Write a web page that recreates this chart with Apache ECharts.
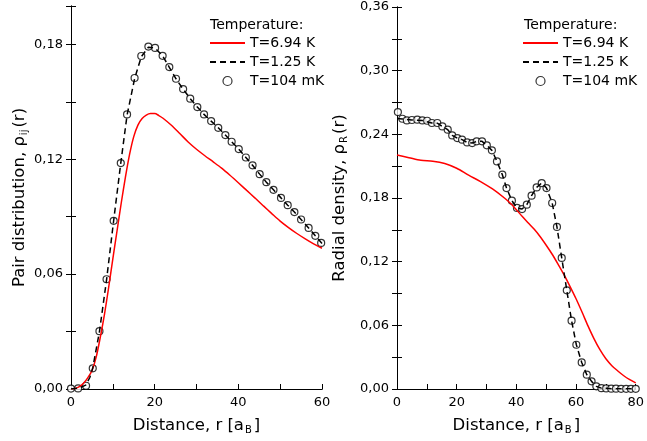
<!DOCTYPE html>
<html>
<head>
<meta charset="utf-8">
<script src="https://cdn.jsdelivr.net/npm/echarts@6/dist/echarts.min.js"></script>
<style>
  html, body { margin: 0; padding: 0; background: #fff; }
  #chart { width: 647px; height: 441px; }
</style>
</head>
<body>
<div id="chart"></div>
<script>
// series names
var seriesNames = ['T=6.94 K', 'T=1.25 K', 'T=104 mK'];

// left panel: pair distribution, [r, rho]
var pairHot = [[0,0],[1,0.0003],[2,0.0012],[3,0.003],[4,0.0058],[5,0.0095],[6,0.0165],[7,0.027],[8,0.039],[9,0.053],[10,0.068],[11,0.0825],[12,0.097],[13,0.1105],[14,0.1225],[15,0.1318],[16,0.1378],[17,0.1412],[18,0.143],[19,0.1438],[20,0.1438],[21,0.1428],[22,0.1414],[24,0.1377],[26,0.1334],[28,0.129],[30,0.1252],[32,0.1218],[34,0.1186],[36,0.1153],[38,0.1116],[40,0.1077],[42,0.1037],[44,0.0997],[46,0.0956],[48,0.0916],[50,0.0877],[52,0.0843],[54,0.0812],[56,0.0784],[58,0.0758],[60,0.0735]];
var pairMid = [[0,0],[2,0.0005],[3.5,0.002],[4.5,0.006],[5.2,0.011],[6.8,0.030],[8.5,0.057],[10.2,0.088],[11.9,0.118],[13.4,0.143],[15.2,0.162],[16.8,0.1735],[18.5,0.1785],[20.1,0.178],[21.9,0.174],[23.5,0.168],[25.1,0.162],[26.8,0.1566],[28.5,0.1516],[30.2,0.1472],[31.8,0.1434],[33.5,0.1399],[35.2,0.1364],[36.9,0.1326],[38.4,0.1291],[40.1,0.1253],[41.8,0.1209],[43.4,0.1168],[45.1,0.1122],[46.7,0.108],[48.4,0.104],[50.2,0.0998],[51.8,0.096],[53.4,0.0924],[55.0,0.0885],[56.8,0.0841],[58.4,0.08],[60,0.076]];
var pairCold = [[0,0.0002],[1.7,0.0003],[3.6,0.0017],[5.2,0.0108],[6.8,0.0302],[8.5,0.0573],[10.2,0.0878],[11.9,0.118],[13.4,0.1434],[15.2,0.1624],[16.8,0.1739],[18.5,0.1788],[20.1,0.1781],[21.9,0.174],[23.5,0.1681],[25.1,0.162],[26.8,0.1566],[28.5,0.1516],[30.2,0.1472],[31.8,0.1434],[33.5,0.1399],[35.2,0.1364],[36.9,0.1326],[38.4,0.1291],[40.1,0.1253],[41.8,0.1209],[43.4,0.1168],[45.1,0.1122],[46.7,0.108],[48.4,0.104],[50.2,0.0998],[51.8,0.096],[53.4,0.0924],[55.0,0.0885],[56.8,0.0841],[58.4,0.08],[59.8,0.0763]];

// right panel: radial density, [r, rho]
var radHot = [[0,0.2205],[4,0.218],[8,0.2155],[12,0.2147],[16,0.2125],[20,0.208],[24,0.2015],[28,0.1955],[32,0.1885],[36,0.18],[38,0.175],[40,0.169],[42,0.1625],[44,0.1565],[46,0.1505],[48,0.1435],[50,0.1355],[52,0.127],[54,0.1175],[56,0.1075],[58,0.0965],[60,0.085],[62,0.0725],[64,0.0595],[66,0.0475],[68,0.037],[70,0.0285],[72,0.022],[74,0.017],[76,0.0125],[78,0.0088],[80,0.0057]];
var radMid = [[0,0.255],[1.8,0.2545],[5,0.2535],[8.5,0.253],[11.7,0.2507],[13.5,0.2505],[15.2,0.2475],[17,0.2444],[18.5,0.239],[20.2,0.2365],[21.8,0.235],[23.5,0.2324],[25.2,0.2318],[26.7,0.2334],[28.5,0.2334],[30.1,0.2296],[31.8,0.2249],[33.5,0.2145],[35.3,0.202],[36.7,0.1894],[38.5,0.1775],[40.2,0.1706],[41.9,0.1696],[43.5,0.1737],[45.1,0.1822],[46.8,0.19],[48.5,0.1941],[50.1,0.1894],[52,0.1753],[53.6,0.1527],[55.2,0.1235],[56.9,0.093],[58.5,0.0644],[60.1,0.0417],[61.9,0.025],[63.6,0.0135],[65.2,0.0072],[66.8,0.0025],[68.5,0.0008],[72,0.0003],[80,0.0002]];
var radCold = [[0.3,0.261],[1.8,0.2547],[3.3,0.2531],[5.0,0.2535],[6.8,0.2538],[8.5,0.2531],[10.1,0.2528],[11.7,0.2507],[13.5,0.2507],[15.2,0.2475],[17.0,0.2444],[18.5,0.239],[20.2,0.2365],[21.8,0.235],[23.5,0.2324],[25.2,0.2318],[26.7,0.2334],[28.5,0.2334],[30.1,0.2296],[31.8,0.2249],[33.5,0.2145],[35.3,0.202],[36.7,0.1894],[38.5,0.1775],[40.2,0.1706],[41.9,0.1696],[43.5,0.1737],[45.1,0.1822],[46.8,0.19],[48.5,0.1941],[50.1,0.1894],[52.0,0.1753],[53.6,0.1527],[55.2,0.1235],[56.9,0.093],[58.5,0.0644],[60.1,0.0417],[61.9,0.025],[63.6,0.0135],[65.2,0.0072],[66.8,0.0025],[68.5,0.0008],[70.1,0.0005],[71.8,0.0003],[73.4,0.0003],[75.1,0.0002],[76.8,0.0002],[78.4,0.0002],[80,0.0002]];

var font = 'DejaVu Sans';
var subRich = { sub: { fontSize: 10, fontFamily: font, color: '#000', padding: [8, 2, 0, 1] } };

function xLabel(v) {
    return Math.round(v) % 20 === 0 ? String(Math.round(v)) : '';
}
function yLabel(v) {
    var k = Math.round(v * 100);
    return k % 6 === 0 ? (k / 100).toFixed(2).replace('.', ',') : '';
}

function mainX(grid, max) {
    return {
        type: 'value', gridIndex: grid, min: 0, max: max, interval: 10,
        axisLine: { lineStyle: { color: '#000', width: 1 } },
        axisTick: { inside: true, length: 5, lineStyle: { color: '#000' } },
        axisLabel: { formatter: xLabel, fontSize: 13, fontFamily: font, color: '#000', margin: 7 },
        splitLine: { show: false },
        name: 'Distance, r [a{sub|B}]', nameLocation: 'middle', nameGap: 28,
        nameTextStyle: { fontSize: 16.5, fontFamily: font, color: '#000', rich: subRich }
    };
}
function frameX(grid, max) {
    return {
        type: 'value', gridIndex: grid, position: 'top', min: 0, max: max,
        axisLine: { lineStyle: { color: '#000', width: 1 } },
        axisTick: { show: false }, axisLabel: { show: false }, splitLine: { show: false }
    };
}
function mainY(grid, max, name, gap) {
    return {
        type: 'value', gridIndex: grid, min: 0, max: max, interval: 0.03,
        axisLine: { show: true, lineStyle: { color: '#000', width: 1 } },
        axisTick: { show: true, inside: true, length: 5, lineStyle: { color: '#000' } },
        axisLabel: { formatter: yLabel, fontSize: 13, fontFamily: font, color: '#000', margin: 8 },
        splitLine: { show: false },
        name: name, nameLocation: 'middle', nameGap: gap,
        nameTextStyle: { fontSize: 16.5, fontFamily: font, color: '#000', rich: subRich }
    };
}
function frameY(grid, max) {
    return {
        type: 'value', gridIndex: grid, position: 'right', min: 0, max: max, interval: 0.03,
        axisLine: { show: true, lineStyle: { color: '#000', width: 1 } },
        axisTick: { show: true, inside: true, length: 5, lineStyle: { color: '#000' } },
        axisLabel: { show: false }, splitLine: { show: false }
    };
}

function hotLine(data, xi, yi) {
    return { name: seriesNames[0], type: 'line', xAxisIndex: xi, yAxisIndex: yi, data: data,
        symbol: 'none', smooth: 0.3, lineStyle: { color: '#ff0000', width: 1.5 }, itemStyle: { color: '#ff0000' } };
}
function midLine(data, xi, yi) {
    return { name: seriesNames[1], type: 'line', xAxisIndex: xi, yAxisIndex: yi, data: data,
        symbol: 'none', lineStyle: { color: '#000', width: 1.5, type: [6, 4] }, itemStyle: { color: '#000' } };
}
function coldDots(data, xi, yi) {
    return { name: seriesNames[2], type: 'scatter', xAxisIndex: xi, yAxisIndex: yi, data: data,
        symbol: 'circle', symbolSize: 7, symbolKeepAspect: true,
        itemStyle: { color: '#fff', borderColor: '#000', borderWidth: 1.2 } };
}

function legendAt(left) {
    return {
        orient: 'vertical', left: left, top: 36, padding: 0, itemGap: 5,
        itemWidth: 35, itemHeight: 9, selectedMode: false,
        textStyle: { fontSize: 14, fontFamily: font, color: '#000' },
        data: [
            { name: seriesNames[0], itemStyle: { opacity: 0 } },
            { name: seriesNames[1], itemStyle: { opacity: 0 } },
            { name: seriesNames[2], itemStyle: { color: '#fff', borderColor: '#000', borderWidth: 1.2 } }
        ]
    };
}
function tempTitle(left) {
    return { text: 'Temperature:', left: left, top: 18, padding: 0,
        textStyle: { fontSize: 14, fontWeight: 'normal', fontFamily: font, color: '#000' } };
}

var myChart = echarts.init(document.getElementById('chart'));
var option = {
    animation: false,
    backgroundColor: '#fff',
    title: [tempTitle(210), tempTitle(524)],
    legend: [legendAt(209), legendAt(522)],
    grid: [
        { left: 71, top: 6, width: 251, height: 383 },
        { left: 397, top: 7, width: 246, height: 382 }
    ],
    xAxis: [mainX(0, 60), frameX(0, 60), mainX(1, 80), frameX(1, 80)],
    yAxis: [
        mainY(0, 0.2, 'Pair distribution, ρ{sub|ij}(r)', 42),
        frameY(0, 0.2),
        mainY(1, 0.36, 'Radial density, ρ{sub|R}(r)', 48),
        frameY(1, 0.36)
    ],
    series: [
        hotLine(pairHot, 0, 0), midLine(pairMid, 0, 0), coldDots(pairCold, 0, 0),
        hotLine(radHot, 2, 2), midLine(radMid, 2, 2), coldDots(radCold, 2, 2)
    ]
};
myChart.setOption(option);
</script>
</body>
</html>
